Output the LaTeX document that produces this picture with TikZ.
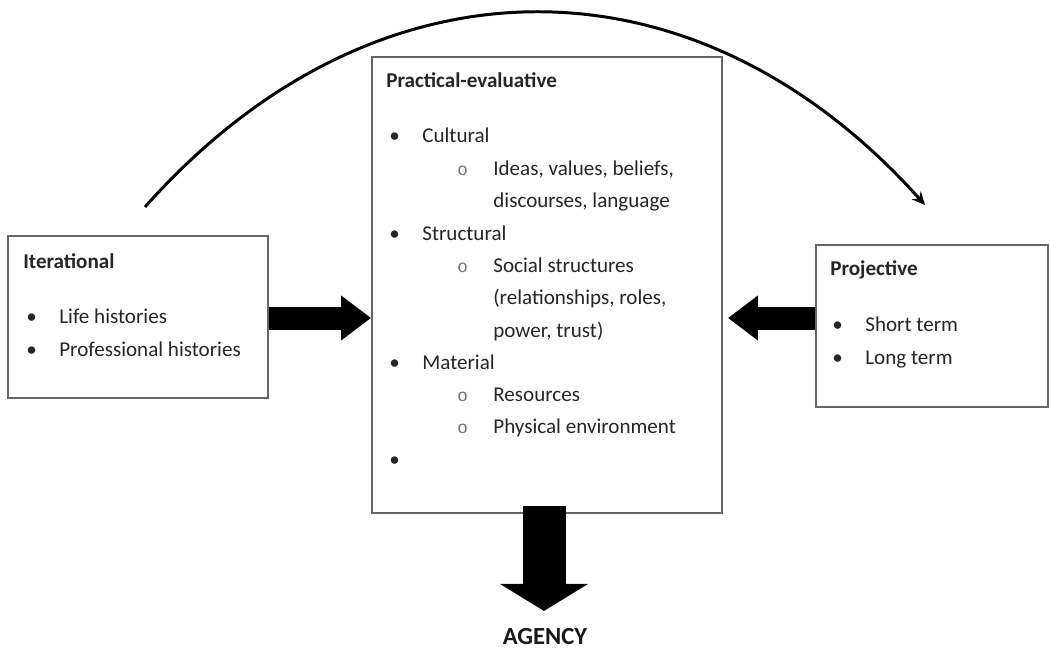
\documentclass[tikz,border=0pt]{standalone}
\usepackage{fontspec}
\setmainfont{Carlito}
\newfontfamily\circfont{Liberation Mono}
\usepackage{tikz}
\usetikzlibrary{positioning, calc, arrows.meta}
\usepackage{xcolor}

\newcommand{\bul}{\makebox[0.66cm][l]{\textbullet}}
\newcommand{\subbul}{\makebox[0.72cm][l]{{\circfont\fontsize{10}{12}\selectfont\color{black!55}o}}}

\begin{document}
\begin{tikzpicture} [x=0.02cm, y=-0.02cm,
    box/.style={draw=black!60, line width=1.1pt, rectangle, fill=white},
    item/.style={anchor=base west, inner sep=0pt, font=\fontsize{12}{14}\selectfont, text=black!85},
    head/.style={item, font=\fontsize{12}{14}\selectfont\bfseries},
    fat/.style={line width=0.46cm, -{Triangle[length=0.6cm, width=0.86cm]}},
    curve/.style={line width=1.7pt, -{Stealth[length=0.26cm, width=0.24cm]}}]
        \useasboundingbox (0,0) rectangle (1050,655);

        % Curved arrow over the top
        \coordinate (arcstart) at (145,207);
        \coordinate (arcend) at (925,205);
        \draw[curve] (arcstart) .. controls (375,-52) and (695,-52) .. (arcend);

        % Boxes
        \node[box, minimum width=5.2cm, minimum height=3.24cm] (iter) at (138,317) {};
        \node[box, minimum width=7cm, minimum height=9.12cm] (prac) at (547,285) {};
        \node[box, minimum width=4.64cm, minimum height=3.24cm] (proj) at (932,326) {};

        % Iterational
        \node[head] (iterT) at (23,268) {Iterational};
        \node[item] (life) at (26,323) {\bul Life histories};
        \node[item] (prof) at (26,356) {\bul Professional histories};

        % Practical-evaluative
        \node[head] (pracT) at (386,88) {Practical-evaluative};
        \node[item] (cult) at (389,143) {\bul Cultural};
        \node[item] (ideas) at (457,175) {\subbul Ideas, values, beliefs,};
        \node[item] (disc) at (493,207) {discourses, language};
        \node[item] (struc) at (389,240) {\bul Structural};
        \node[item] (social) at (457,272) {\subbul Social structures};
        \node[item] (rel) at (493,304) {(relationships, roles,};
        \node[item] (power) at (493,337) {power, trust)};
        \node[item] (mat) at (389,369) {\bul Material};
        \node[item] (res) at (457,401) {\subbul Resources};
        \node[item] (phys) at (457,433) {\subbul Physical environment};
        \node[item] (empty) at (389,466) {\bul};

        % Projective
        \node[head] (projT) at (830,275) {Projective};
        \node[item] (short) at (832,331) {\bul Short term};
        \node[item] (long) at (832,364) {\bul Long term};

        % Agency
        \node[font=\fontsize{14}{16}\selectfont\bfseries, text=black!90] (agency) at (545,637) {AGENCY};
        \coordinate (agtip) at ($(prac.south)+(-3,97)$);

        % Arrows
        \draw[fat] ([yshift=-0.02cm]iter.east) -- ([yshift=-0.02cm]iter.east -| prac.west);
        \draw[fat, shorten >=0.1cm] ([yshift=0.16cm]proj.west) -- ([yshift=0.16cm]proj.west -| prac.east);
        \draw[line width=0.86cm, -{Triangle[length=0.54cm, width=1.74cm]}] ([shift={(-3,-8)}]prac.south) -- (agtip);
    \end{tikzpicture}
\end{document}
